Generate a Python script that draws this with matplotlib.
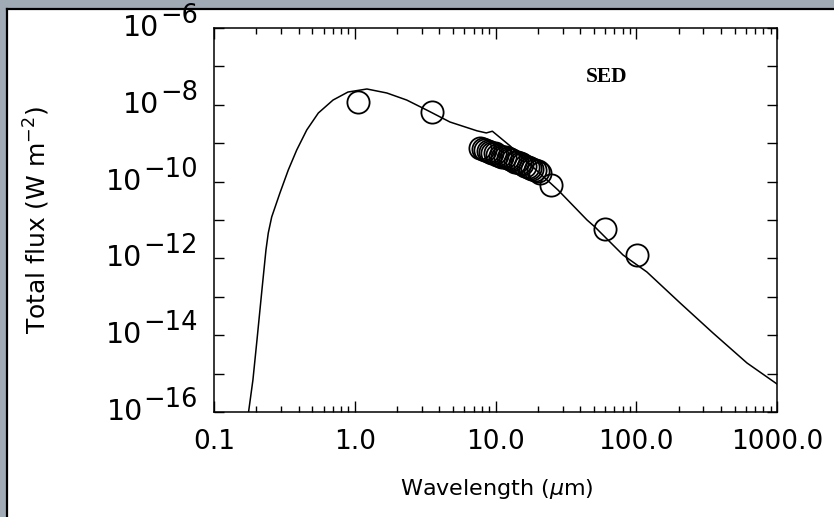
import numpy as np
import matplotlib.pyplot as plt
from matplotlib.patches import Rectangle
from matplotlib import transforms

# model SED curve (wavelength in micron, flux in W m^-2)
wl_model = [0.176, 0.189, 0.202, 0.219, 0.234, 0.243, 0.257, 0.294, 0.337, 0.387,
            0.456, 0.551, 0.701, 0.895, 1.22, 1.69, 2.34, 3.24, 4.75, 7.39,
            8.6, 9.5, 12.7, 17.6, 27.8, 44.7, 50.9, 80.5, 119, 205, 351, 612, 1000]
flux_model = [1.0e-16, 6.8e-16, 7.5e-15, 1.50e-13, 1.66e-12, 4.58e-12, 1.20e-11, 5.05e-11,
              2.00e-10, 6.65e-10, 2.21e-9, 6.11e-9, 1.33e-8, 2.15e-8, 2.58e-8, 2.03e-8,
              1.33e-8, 7.33e-9, 3.56e-9, 2.1e-9, 1.85e-9, 2.05e-9, 8.5e-10, 2.80e-10,
              6.04e-11, 1.0e-11, 6.58e-12, 1.23e-12, 4.43e-13, 6.90e-14, 1.14e-14,
              1.89e-15, 5.36e-16]

# observed photometry / spectrum points
wl_obs = [1.06, 3.56, 7.76, 8.1, 8.42, 8.8, 9.14, 9.5, 9.92, 10.3, 10.8, 11.2, 11.7,
          12.2, 12.7, 13.2, 13.8, 14.3, 14.9, 15.5, 16.2, 16.9, 17.6, 18.3, 19.1,
          19.9, 20.7, 24.8, 60.0, 101]
flux_obs = [1.21e-8, 6.61e-9, 7.36e-10, 7.0e-10, 6.65e-10, 6.3e-10, 6.01e-10, 5.7e-10,
            5.46e-10, 5.0e-10, 4.65e-10, 4.5e-10, 4.30e-10, 4.0e-10, 3.81e-10, 3.55e-10,
            3.30e-10, 3.15e-10, 3.00e-10, 2.8e-10, 2.60e-10, 2.45e-10, 2.30e-10, 2.15e-10,
            2.00e-10, 1.85e-10, 1.71e-10, 8.15e-11, 5.73e-12, 1.23e-12]

xticks = [0.1, 1, 10, 100, 1000]
xticklabels = ["0.1", "1.0", "10.0", "100.0", "1000.0"]
yticks = [1e-6, 1e-7, 1e-8, 1e-9, 1e-10, 1e-11, 1e-12, 1e-13, 1e-14, 1e-15, 1e-16]
ylabel_ticks = [1e-6, 1e-8, 1e-10, 1e-12, 1e-14, 1e-16]
ylabel_exps = ["\u22126", "\u22128", "\u221210", "\u221212", "\u221214", "\u221216"]

W, H = 834, 517
fig = plt.figure(figsize=(W / 100, H / 100), dpi=100)
fig.patch.set_facecolor("#a0abb5")
fig.patches.append(Rectangle((8 / W, 0), 1, 1 - 10 / H, transform=fig.transFigure,
                             facecolor="white", edgecolor="none", zorder=-5))
fig.add_artist(plt.Line2D([7 / W, 7 / W], [0, 1 - 9 / H], color="black", lw=1.6,
                          transform=fig.transFigure))
fig.add_artist(plt.Line2D([7 / W, 1], [1 - 9 / H, 1 - 9 / H], color="black", lw=1.6,
                          transform=fig.transFigure))

ax = fig.add_axes([214 / W, 1 - 412 / H, (777 - 214) / W, (412 - 28) / H])
ax.set_facecolor("white")
ax.plot(wl_model, flux_model, color="black", lw=1.1)
ax.plot(wl_obs, flux_obs, "o", mfc="none", mec="black", ms=16, mew=1.3)

ax.set_xscale("log")
ax.set_yscale("log")
ax.set_xlim(0.1, 1000)
ax.set_ylim(1e-16, 1e-6)

ax.set_xticks(xticks)
ax.set_xticklabels(xticklabels)
ax.set_yticks(yticks)
ax.set_yticklabels([])
ax.yaxis.set_minor_locator(plt.NullLocator())
ax.xaxis.set_minor_locator(plt.LogLocator(base=10, subs=np.arange(2, 10)))
ax.xaxis.set_minor_formatter(plt.NullFormatter())

ax.tick_params(which="both", direction="in", top=True, right=True, width=1.0)
ax.tick_params(axis="x", which="major", length=7.9, pad=12, labelsize=19)
ax.tick_params(axis="x", which="minor", length=4.3)
ax.tick_params(axis="y", which="major", length=7.2)
for s in ax.spines.values():
    s.set_linewidth(1.1)

# y tick labels as "10" + raised exponent
base = transforms.blended_transform_factory(ax.transAxes, ax.transData)
renderer = fig.canvas.get_renderer()
for v, e in zip(ylabel_ticks, ylabel_exps):
    t = ax.text(0, v, e, fontsize=18.5, ha="right", va="center",
                transform=transforms.offset_copy(base, fig=fig, x=-16, y=12, units="dots"))
    w = t.get_window_extent(renderer).width
    ax.text(0, v, "10", fontsize=20.5, ha="right", va="center",
            transform=transforms.offset_copy(base, fig=fig, x=-17 - w, y=0, units="dots"))

ax.set_xlabel(r"Wavelength ($\mu$m)", fontsize=16)
ax.set_ylabel(r"Total flux (W m$^{-2}$)", fontsize=18)
ax.xaxis.set_label_coords(0.502, -0.168)
ax.yaxis.set_label_coords(-0.288, 0.5)

fig.text(607 / W, 1 - 77 / H, "SED", fontsize=15.5, fontweight="bold",
         family="Liberation Serif", ha="center", va="center")

fig.savefig("out.png", dpi=100, facecolor=fig.get_facecolor())
